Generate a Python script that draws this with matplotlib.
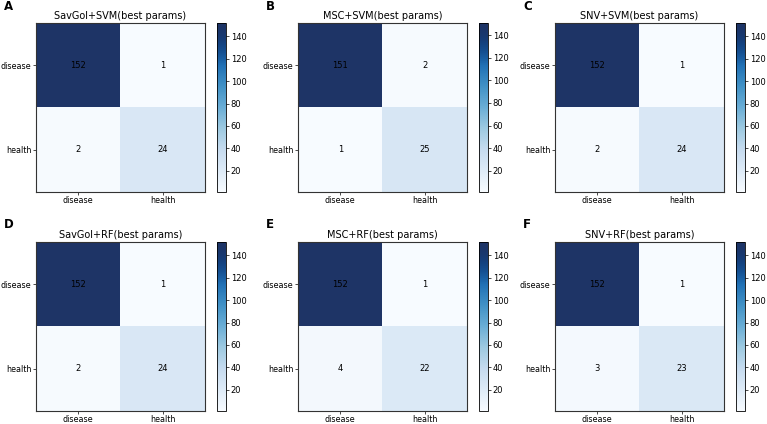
import numpy as np
import matplotlib
matplotlib.use("Agg")
import matplotlib.pyplot as plt
from matplotlib.colors import ListedColormap, to_rgba

labels = ["disease", "health"]
titles = [
    "SavGol+SVM(best params)", "MSC+SVM(best params)", "SNV+SVM(best params)",
    "SavGol+RF(best params)", "MSC+RF(best params)", "SNV+RF(best params)",
]
letters = ["A", "B", "C", "D", "E", "F"]
cm_A = [[152, 1], [2, 24]]
cm_B = [[151, 2], [1, 25]]
cm_C = [[152, 1], [2, 24]]
cm_D = [[152, 1], [2, 24]]
cm_E = [[152, 1], [4, 22]]
cm_F = [[152, 1], [3, 23]]
matrices = [cm_A, cm_B, cm_C, cm_D, cm_E, cm_F]

# Blues, with the dark end pulled a little toward the muted navy of the figure
base = plt.get_cmap("Blues")(np.linspace(0, 1, 256))
navy = np.array(to_rgba("#1e3466"))
w = np.clip((np.linspace(0, 1, 256) - 0.75) / 0.25, 0, 1)[:, None]
cmap = ListedColormap(base * (1 - w) + navy * w)

W, H = 767, 424
fig = plt.figure(figsize=(W / 100, H / 100), dpi=100)

col_left = [36, 298, 555]
row_top = [23, 242]
size = 169


def px(x, y, w, h):
    return [x / W, 1 - (y + h) / H, w / W, h / H]


for i, cm in enumerate(matrices):
    r, c = divmod(i, 3)
    x0, y0 = col_left[c], row_top[r]
    ax = fig.add_axes(px(x0, y0, size, size))
    cax = fig.add_axes(px(x0 + 181, y0, 9, size))
    data = np.array(cm)
    im = ax.imshow(data, cmap=cmap, interpolation="nearest", aspect="auto")
    cb = fig.colorbar(im, cax=cax)
    cb.set_ticks([20, 40, 60, 80, 100, 120, 140])
    cb.ax.tick_params(labelsize=6, length=2, width=0.5, pad=1.5)
    cb.outline.set_linewidth(0.6)
    for a in range(2):
        for b in range(2):
            ax.text(b, a, str(data[a, b]), ha="center", va="center",
                    fontsize=6, color="black")
    ax.set_xticks([0, 1])
    ax.set_yticks([0, 1])
    ax.set_xticklabels(labels)
    ax.set_yticklabels(labels)
    ax.tick_params(labelsize=5.8, length=2, width=0.5, pad=1.2)
    for s in ax.spines.values():
        s.set_linewidth(0.8)
        s.set_color("#333333")
    ax.set_title(titles[i], fontsize=7, pad=3)
    fig.text((x0 - 32) / W, 1 - (y0 - 17) / H, letters[i], fontsize=8.5,
             fontweight="bold", ha="left", va="center")

fig.savefig("out.png", dpi=100)
